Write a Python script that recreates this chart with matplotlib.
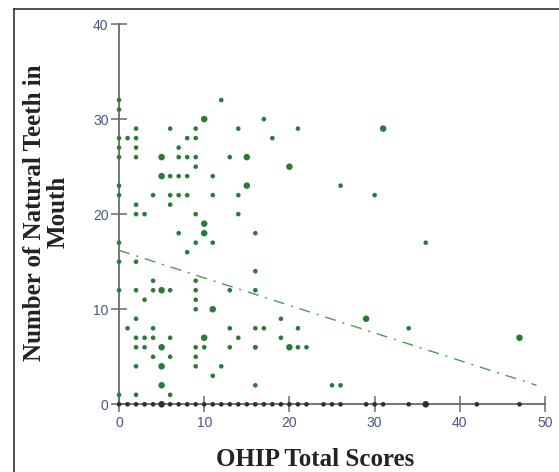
import matplotlib
matplotlib.use("Agg")
import matplotlib.pyplot as plt
from matplotlib.lines import Line2D
import numpy as np

# respondents with at least one natural tooth: OHIP score, teeth, overlap count
ohip_scores = [
    0, 0, 0, 0, 0, 0, 0, 0, 0, 0, 0,
    1, 1,
    2, 2, 2, 2, 2, 2, 2, 2, 2, 2, 2, 2, 2,
    3, 3, 3, 3,
    4, 4, 4, 4, 4, 4,
    5, 5, 5, 5, 5, 5,
    6, 6, 6, 6, 6, 6, 6, 6,
    7, 7, 7, 7, 7,
    8, 8, 8, 8, 8,
    9, 9, 9, 9, 9, 9, 9, 9, 9, 9, 9, 9, 9,
    10, 10, 10, 10, 10,
    11, 11, 11, 11, 11,
    12, 12,
    13, 13, 13, 13,
    14, 14, 14, 14,
    15, 15,
    16, 16, 16, 16, 16, 16, 16,
    17, 17, 18, 19, 19, 20, 20, 21, 21, 21, 22,
    25, 26, 26, 29, 30, 31, 34, 36, 47,
]
teeth_counts = [
    32, 31, 28, 27, 26, 23, 22, 17, 15, 12, 1,
    28, 8,
    29, 28, 27, 26, 21, 15, 12, 9, 7, 6, 4, 1, 20,
    20, 11, 7, 6,
    22, 13, 12, 8, 7, 5,
    26, 24, 12, 6, 4, 2,
    29, 24, 22, 21, 12, 7, 5, 1,
    27, 26, 24, 22, 18,
    28, 26, 24, 22, 16,
    29, 28, 26, 25, 20, 17, 13, 11, 10, 5, 4, 12, 6,
    30, 19, 18, 7, 6,
    24, 22, 17, 10, 3,
    32, 4,
    26, 12, 8, 6,
    29, 22, 20, 7,
    26, 23,
    18, 14, 12, 8, 6, 2, 6,
    30, 8, 28, 9, 7, 25, 6, 29, 8, 6, 6,
    2, 23, 2, 9, 22, 29, 8, 17, 7,
]
overlap = [
    1, 1, 1, 1, 1, 1, 1, 1, 1, 1, 1,
    1, 1,
    1, 1, 1, 1, 1, 1, 1, 1, 1, 1, 1, 1, 1,
    1, 1, 1, 1,
    1, 1, 1, 1, 1, 1,
    2, 2, 2, 2, 2, 2,
    1, 1, 1, 1, 1, 1, 1, 1,
    1, 1, 1, 1, 1,
    1, 1, 1, 1, 1,
    1, 1, 1, 1, 1, 1, 1, 1, 1, 1, 1, 1, 1,
    2, 2, 2, 2, 1,
    1, 1, 1, 2, 1,
    1, 1,
    1, 1, 1, 1,
    1, 1, 1, 1,
    2, 2,
    1, 1, 1, 1, 1, 1, 1,
    1, 1, 1, 1, 1, 2, 2, 1, 1, 1, 1,
    1, 1, 1, 2, 1, 2, 1, 1, 2,
]
# edentulous respondents (0 teeth) sit on the x axis
zero_scores = list(range(0, 23)) + [24, 25, 26, 29, 30, 31, 34, 36, 42, 47]
zero_overlap = [1] * 5 + [2] + [1] * 17 + [1, 1, 1, 1, 1, 1, 1, 2, 1, 1]

trend_x = [0, 49]
trend_y = [16.2, 2.0]

GREEN = "#2b7a37"
TICK_COLOR = "#4a5582"
AXIS_COLOR = "#6a6a6a"

fig = plt.figure(figsize=(5.59, 4.72), dpi=100)
ax = fig.add_axes([0.2129, 0.1434, 0.7621, 0.8057])

sizes = [11 if c == 1 else 22 for c in overlap]
ax.scatter(ohip_scores, teeth_counts, s=sizes, color=GREEN, linewidths=0,
           zorder=4, clip_on=False)
zsizes = [11 if c == 1 else 22 for c in zero_overlap]
ax.scatter(zero_scores, np.zeros(len(zero_scores)), s=zsizes, color="#2e2e2e",
           linewidths=0, zorder=5, clip_on=False)

ax.plot(trend_x, trend_y, color="#4f9a4f", linewidth=1.0,
        dashes=(8, 5, 1.5, 5), zorder=3)

ax.set_xlim(0, 50)
ax.set_ylim(0, 40)
ax.set_xticks([0, 10, 20, 30, 40, 50])
ax.set_yticks([0, 10, 20, 30, 40])

for side in ("top", "right"):
    ax.spines[side].set_visible(False)
for side in ("left", "bottom"):
    ax.spines[side].set_color(AXIS_COLOR)
    ax.spines[side].set_linewidth(1.3)

ax.tick_params(axis="both", direction="inout", length=11, width=1.1,
               color=AXIS_COLOR, labelcolor=TICK_COLOR, labelsize=10)
ax.tick_params(axis="x", pad=3)
ax.tick_params(axis="y", pad=2)
for lab in ax.get_xticklabels() + ax.get_yticklabels():
    lab.set_fontfamily("Liberation Sans")

ax.set_xlabel("OHIP Total Scores", family="Liberation Serif", fontweight="bold",
              fontsize=18, color="#222222")
ax.xaxis.set_label_coords(0.46, -0.146)
ax.xaxis.label.set_va("center")

ax.set_ylabel("Number of Natural Teeth in\nMouth", family="Liberation Serif",
              fontweight="bold", fontsize=18, color="#222222",
              linespacing=1.02)
ax.yaxis.set_label_coords(-0.1714, 0.505)
ax.yaxis.label.set_va("center")

# thin frame round the figure panel
fig.add_artist(Line2D([14 / 559, 14 / 559], [0, 1 - 9 / 472],
                      transform=fig.transFigure, color="#333333", linewidth=1.2))
fig.add_artist(Line2D([14 / 559, 1], [1 - 9 / 472, 1 - 9 / 472],
                      transform=fig.transFigure, color="#333333", linewidth=1.2))

fig.savefig("out.png", dpi=100)
